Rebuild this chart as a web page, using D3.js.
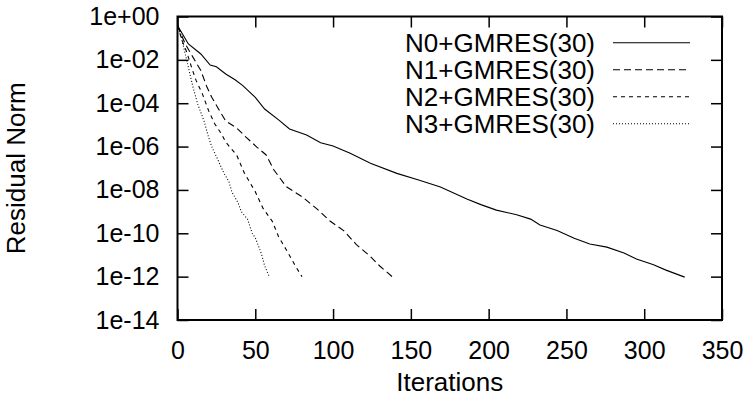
<!DOCTYPE html>
<html>
<head>
<meta charset="utf-8">
<script src="https://cdn.jsdelivr.net/npm/d3@7"></script>
<style>
  body { margin: 0; background: #fff; }
  svg { display: block; font-family: "Liberation Sans", Arial, sans-serif; }
  .tick line { stroke: #000; stroke-width: 1.5; }
  .tick text { font-size: 25px; fill: #000; }
</style>
</head>
<body>
<div id="chart"></div>
<script>
// values
var xTicks = [0, 50, 100, 150, 200, 250, 300, 350];
var yTicks = [1e0, 1e-2, 1e-4, 1e-6, 1e-8, 1e-10, 1e-12, 1e-14];
var yTickLabels = ['1e+00', '1e-02', '1e-04', '1e-06', '1e-08', '1e-10', '1e-12', '1e-14'];

var seriesNames = ['N0+GMRES(30)', 'N1+GMRES(30)', 'N2+GMRES(30)', 'N3+GMRES(30)'];

var n0Iter = [0, 7, 15, 21, 25, 31, 37, 42, 50, 56, 65, 72, 83, 92, 100, 111, 124, 141, 155, 169,
  186, 195, 205, 218, 227, 233, 244, 255, 265, 276, 287, 295, 306, 314, 326];
var n0Resid = [3.8e-1, 5.4e-2, 1.86e-2, 5.75e-3, 4.8e-3, 2.24e-3, 1.2e-3, 6.5e-4, 1.86e-4, 5.4e-5,
  1.7e-5, 6.5e-6, 3.4e-6, 1.5e-6, 1.07e-6, 4.9e-7, 1.7e-7, 5.8e-8, 2.9e-8, 1.38e-8,
  3.8e-9, 2.1e-9, 1.17e-9, 7.2e-10, 4.5e-10, 2.4e-10, 1.35e-10, 5.9e-11, 3.2e-11, 2.3e-11,
  1.23e-11, 6.5e-12, 3.5e-12, 2.0e-12, 9.5e-13];

var n1Iter = [0, 5, 10, 15, 19, 22, 26, 31, 38, 44, 51, 57, 62, 70, 80, 90, 98, 107, 115, 124, 130, 138];
var n1Resid = [3.8e-1, 5.4e-2, 1.3e-2, 3.2e-3, 5.4e-4, 1.9e-4, 6.0e-5, 1.5e-5, 7.2e-6, 2.75e-6,
  9.5e-7, 4.1e-7, 8.3e-8, 1.4e-8, 4.9e-9, 1.26e-9, 3.7e-10, 1.3e-10, 3.0e-11, 8.5e-12, 3.1e-12, 1.0e-12];

var n2Iter = [0, 3, 6, 9, 12, 16, 20, 24, 28, 31, 38, 43, 50, 55, 61, 65, 70, 76, 80];
var n2Resid = [3.8e-1, 7.6e-2, 2.2e-2, 4.6e-3, 1.1e-3, 2.7e-4, 4.5e-5, 1.1e-5, 4.1e-6, 1.6e-6,
  4.1e-7, 5.9e-8, 8.3e-9, 1.4e-9, 3.5e-10, 6.9e-11, 1.7e-11, 2.9e-12, 1.0e-12];

var n3Iter = [0, 2, 4, 6, 8, 10, 13, 17, 20, 22, 26, 30, 33, 35, 39, 41, 45, 48, 50, 54, 56, 59];
var n3Resid = [3.8e-1, 1.55e-1, 3.8e-2, 9.1e-3, 2.2e-3, 5.4e-4, 9.1e-5, 1.55e-5, 2.7e-6, 1.0e-6,
  2.4e-7, 5.6e-8, 2.5e-8, 7.9e-9, 2.5e-9, 1.0e-9, 4.5e-10, 1.0e-10, 6.3e-11, 1.1e-11, 3.2e-12, 1.0e-12];

var series = [
  { name: seriesNames[0], iter: n0Iter, resid: n0Resid, dash: null },
  { name: seriesNames[1], iter: n1Iter, resid: n1Resid, dash: '7,4' },
  { name: seriesNames[2], iter: n2Iter, resid: n2Resid, dash: '4,4' },
  { name: seriesNames[3], iter: n3Iter, resid: n3Resid, dash: '1,2' }
];

var W = 753, H = 403;
var plotLeft = 177.5, plotRight = 722, plotTop = 16.5, plotBottom = 320;

var x = d3.scaleLinear().domain([0, 350]).range([plotLeft, plotRight]);
var y = d3.scaleLog().domain([1e-14, 1]).range([plotBottom, plotTop]);

var svg = d3.select('#chart').append('svg')
  .attr('width', W)
  .attr('height', H);

// gnuplot style: ticks pointing inwards, mirrored on top and right
svg.append('g')
  .attr('transform', 'translate(0,' + plotBottom + ')')
  .call(d3.axisBottom(x).tickValues(xTicks).tickSize(-11).tickPadding(21))
  .call(function (g) { g.select('.domain').remove(); });

svg.append('g')
  .attr('transform', 'translate(0,' + plotTop + ')')
  .call(d3.axisTop(x).tickValues(xTicks).tickSize(-11).tickFormat(''))
  .call(function (g) { g.select('.domain').remove(); });

svg.append('g')
  .attr('transform', 'translate(' + plotLeft + ',0)')
  .call(d3.axisLeft(y).tickValues(yTicks).tickSize(-11).tickPadding(18)
    .tickFormat(function (d, i) { return yTickLabels[i]; }))
  .call(function (g) { g.select('.domain').remove(); });

svg.append('g')
  .attr('transform', 'translate(' + plotRight + ',0)')
  .call(d3.axisRight(y).tickValues(yTicks).tickSize(-11).tickFormat(''))
  .call(function (g) { g.select('.domain').remove(); });

svg.append('rect')
  .attr('x', plotLeft)
  .attr('y', plotTop)
  .attr('width', plotRight - plotLeft)
  .attr('height', plotBottom - plotTop)
  .attr('fill', 'none')
  .attr('stroke', '#000')
  .attr('stroke-width', 2);

var line = d3.line()
  .x(function (d) { return x(d[0]); })
  .y(function (d) { return y(d[1]); });

series.forEach(function (s) {
  svg.append('path')
    .datum(s.iter.map(function (it, i) { return [it, s.resid[i]]; }))
    .attr('d', line)
    .attr('fill', 'none')
    .attr('stroke', '#000')
    .attr('stroke-width', 1.1)
    .attr('stroke-dasharray', s.dash);
});

// legend
var legend = svg.append('g').selectAll('g')
  .data(series)
  .enter().append('g')
  .attr('transform', function (d, i) { return 'translate(0,' + (42.7 + i * 27) + ')'; });

legend.append('text')
  .attr('x', 595)
  .attr('dy', '0.35em')
  .attr('text-anchor', 'end')
  .style('font-size', '26px')
  .text(function (d) { return d.name; });

legend.append('line')
  .attr('x1', 613)
  .attr('x2', 690)
  .attr('stroke', '#000')
  .attr('stroke-width', 1.1)
  .attr('stroke-dasharray', function (d) { return d.dash; });

// axis titles
svg.append('text')
  .attr('x', (plotLeft + plotRight) / 2)
  .attr('y', 391)
  .attr('text-anchor', 'middle')
  .style('font-size', '26px')
  .text('Iterations');

svg.append('text')
  .attr('transform', 'translate(25,' + ((plotTop + plotBottom) / 2) + ') rotate(-90)')
  .attr('text-anchor', 'middle')
  .style('font-size', '26px')
  .text('Residual Norm');
</script>
</body>
</html>
